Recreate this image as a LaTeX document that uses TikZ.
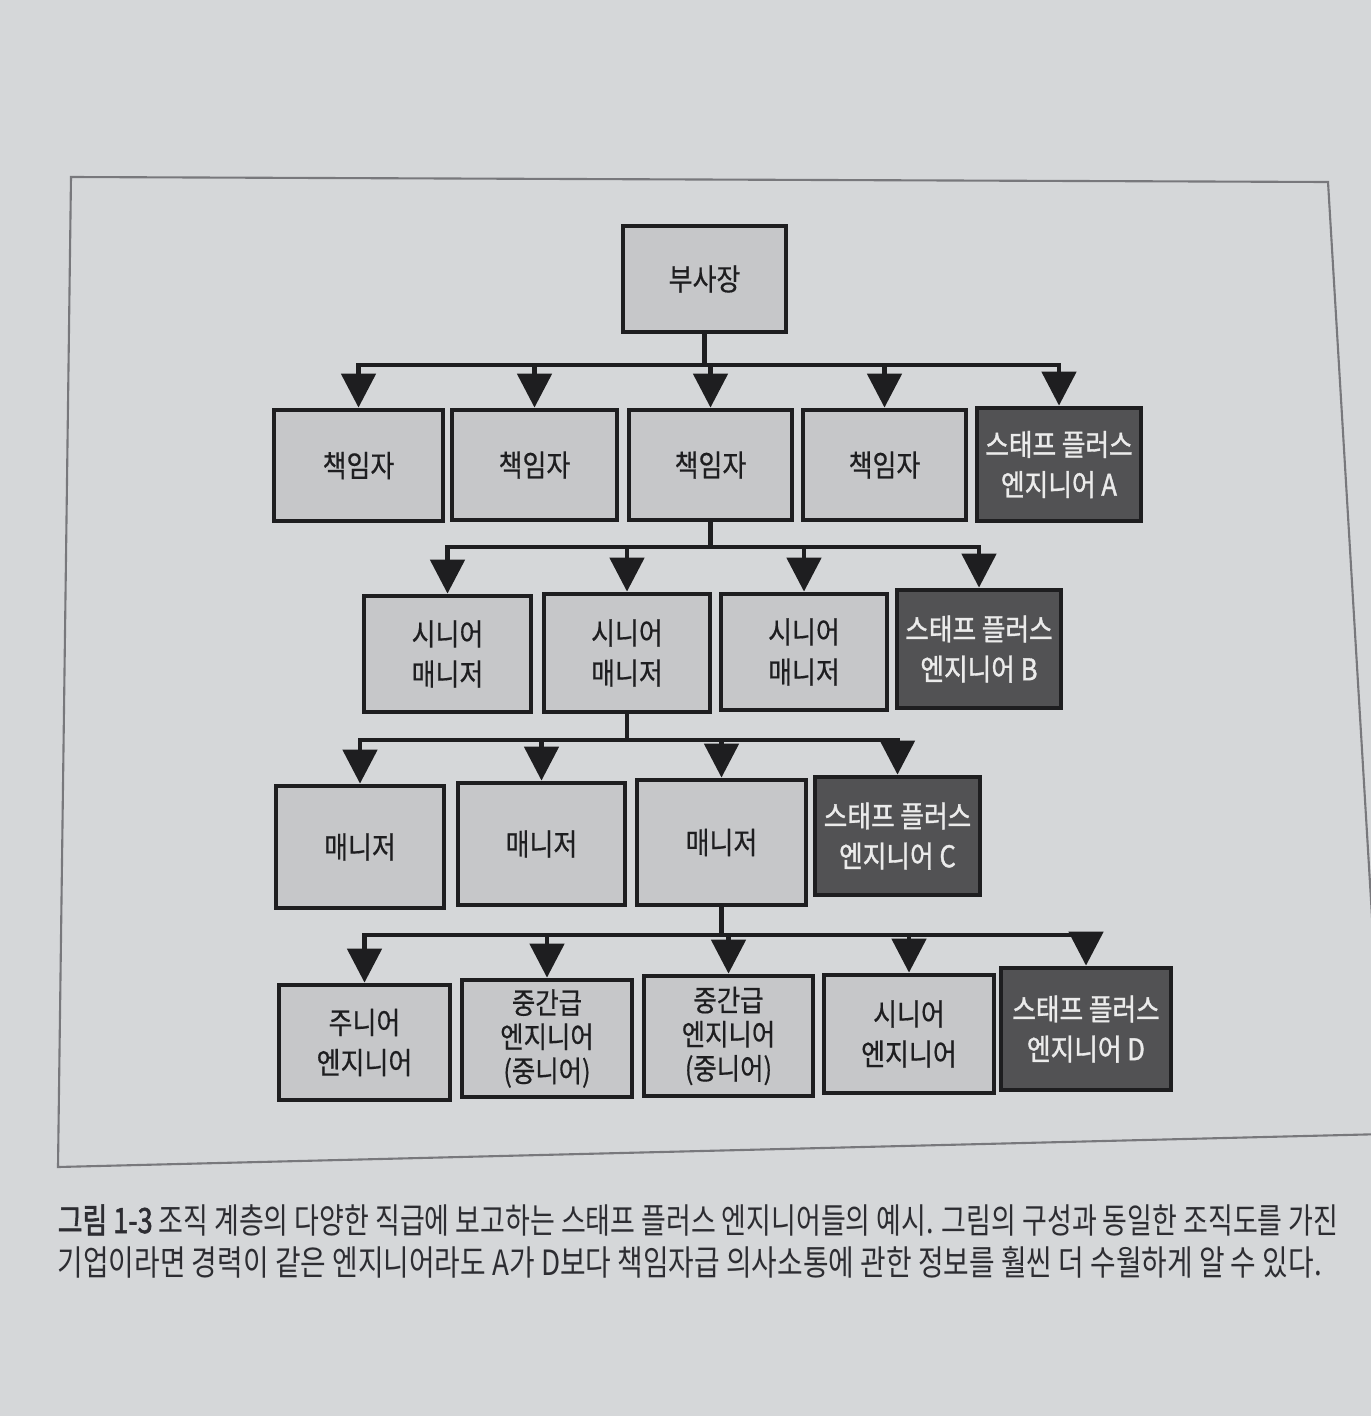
\documentclass[tikz,border=0pt]{standalone}
\usepackage{fontspec}
\setmainfont{Noto Sans CJK KR}
\newfontfamily\kr[FakeStretch=0.86,FakeBold=0.5]{Noto Sans CJK KR}
\newfontfamily\krb[FakeStretch=0.86,FakeBold=1.2]{Noto Sans CJK KR}
\newfontfamily\capf[FakeStretch=0.8]{Noto Sans CJK KR}
\newfontfamily\capg[FakeStretch=0.775]{Noto Sans CJK KR}
\newfontfamily\capb[FakeStretch=0.775,FakeBold=1.6]{Noto Sans CJK KR}
\usetikzlibrary{arrows.meta}
\definecolor{pagebg}{RGB}{213,215,217}
\definecolor{boxlight}{RGB}{198,199,201}
\definecolor{boxdark}{RGB}{82,82,84}
\definecolor{inkc}{RGB}{30,30,32}
\definecolor{framec}{RGB}{120,120,124}
\definecolor{capc}{RGB}{45,45,50}
\tikzset{
  orgbox/.style={draw=inkc, line width=1.35pt, fill=boxlight, inner sep=0pt,
    align=center, text=inkc, font=\kr\fontsize{8.6}{11.4}\selectfont},
  tribox/.style={orgbox, font=\kr\fontsize{8.4}{9.7}\selectfont},
  staffbox/.style={orgbox, fill=boxdark, text=white!92!black,
    font=\krb\fontsize{8.5}{11.4}\selectfont},
  link/.style={draw=inkc, line width=1.4pt},
  arr/.style={link, -{Triangle[width=3.4mm,length=3.4mm]}},
  captext/.style={anchor=base west, inner sep=0pt, text=capc, font=\capf\fontsize{9.9}{12}\selectfont},
}
\begin{document}
\begin{tikzpicture}[x=0.1mm,y=-0.1mm]
\useasboundingbox (0,0) rectangle (1371,1416);
\clip (0,0) rectangle (1371,1416);
\fill[pagebg] (0,0) rectangle (1371,1416);
% frame
\draw[framec, line width=0.6pt] (58,1167) -- (71,177) -- (1328,182) -- (1385,1134) -- cycle;

% level 0
\node[orgbox, minimum width=16.3mm, minimum height=10.6mm] (vp) at (704.5,279) {부사장};

% level 1
\node[orgbox, minimum width=16.9mm, minimum height=11.1mm] (c1) at (358.5,465.5) {책임자};
\node[orgbox, minimum width=16.5mm, minimum height=11.0mm] (c2) at (534.5,465) {책임자};
\node[orgbox, minimum width=16.3mm, minimum height=11.0mm] (c3) at (710.5,465) {책임자};
\node[orgbox, minimum width=16.3mm, minimum height=11.0mm] (c4) at (884.5,465) {책임자};
\node[staffbox, minimum width=16.4mm, minimum height=11.3mm] (sA) at (1059,464.5) {스태프 플러스\\엔지니어 A};

% level 2
\node[orgbox, minimum width=16.7mm, minimum height=11.6mm] (m1) at (447.5,654) {시니어\\매니저};
\node[orgbox, minimum width=16.6mm, minimum height=11.8mm] (m2) at (627,653) {시니어\\매니저};
\node[orgbox, minimum width=16.6mm, minimum height=11.6mm] (m3) at (804,652) {시니어\\매니저};
\node[staffbox, minimum width=16.4mm, minimum height=11.8mm] (sB) at (979,649) {스태프 플러스\\엔지니어 B};

% level 3
\node[orgbox, minimum width=16.8mm, minimum height=12.2mm] (n1) at (360,847) {매니저};
\node[orgbox, minimum width=16.7mm, minimum height=12.2mm] (n2) at (541.5,844) {매니저};
\node[orgbox, minimum width=16.9mm, minimum height=12.5mm] (n3) at (721.5,842.5) {매니저};
\node[staffbox, minimum width=16.5mm, minimum height=11.8mm] (sC) at (897.5,836) {스태프 플러스\\엔지니어 C};

% level 4
\node[orgbox, minimum width=17.1mm, minimum height=11.5mm] (e1) at (364.5,1042.5) {주니어\\엔지니어};
\node[tribox, minimum width=17.0mm, minimum height=11.7mm] (e2) at (547,1038.5) {중간급\\엔지니어\\(중니어)};
\node[tribox, minimum width=16.9mm, minimum height=12.0mm] (e3) at (728.5,1036) {중간급\\엔지니어\\(중니어)};
\node[orgbox, minimum width=17.0mm, minimum height=11.8mm] (e4) at (909,1034) {시니어\\엔지니어};
\node[staffbox, minimum width=17.0mm, minimum height=12.2mm] (sD) at (1086,1029) {스태프 플러스\\엔지니어 D};

% connectors level 0 -> 1
\coordinate (b1) at (704.5,365);
\draw[link] (vp.south) -- (b1);
\draw[link, line cap=rect] (c1.north |- b1) -- (sA.north |- b1);
\foreach \k in {c1,c2,c3,c4,sA} \draw[arr] (\k.north |- b1) -- (\k.north);

% level 1 -> 2
\coordinate (b2) at (710.5,547);
\draw[link] (c3.south) -- (b2);
\draw[link, line cap=rect] (m1.north |- b2) -- (sB.north |- b2);
\foreach \k in {m1,m2,m3,sB} \draw[arr] (\k.north |- b2) -- (\k.north);

% level 2 -> 3
\coordinate (b3) at (627,740);
\draw[link] (m2.south) -- (b3);
\draw[link, line cap=rect] (n1.north |- b3) -- (sC.north |- b3);
\foreach \k in {n1,n2,n3,sC} \draw[arr] (\k.north |- b3) -- (\k.north);

% level 3 -> 4
\coordinate (b4) at (721.5,935);
\draw[link] (n3.south) -- (b4);
\draw[link, line cap=rect] (e1.north |- b4) -- (sD.north |- b4);
\foreach \k in {e1,e2,e3,e4,sD} \draw[arr] (\k.north |- b4) -- (\k.north);

% caption
\node[captext, font=\capg\fontsize{9.9}{12}\selectfont] (cap1) at (57,1233)
  {{\capb 그림 1-3} 조직 계층의 다양한 직급에 보고하는 스태프 플러스 엔지니어들의 예시. 그림의 구성과 동일한 조직도를 가진};
\node[captext] (cap2) at (57,1275)
  {기업이라면 경력이 같은 엔지니어라도 A가 D보다 책임자급 의사소통에 관한 정보를 훨씬 더 수월하게 알 수 있다.};
\end{tikzpicture}
\end{document}
